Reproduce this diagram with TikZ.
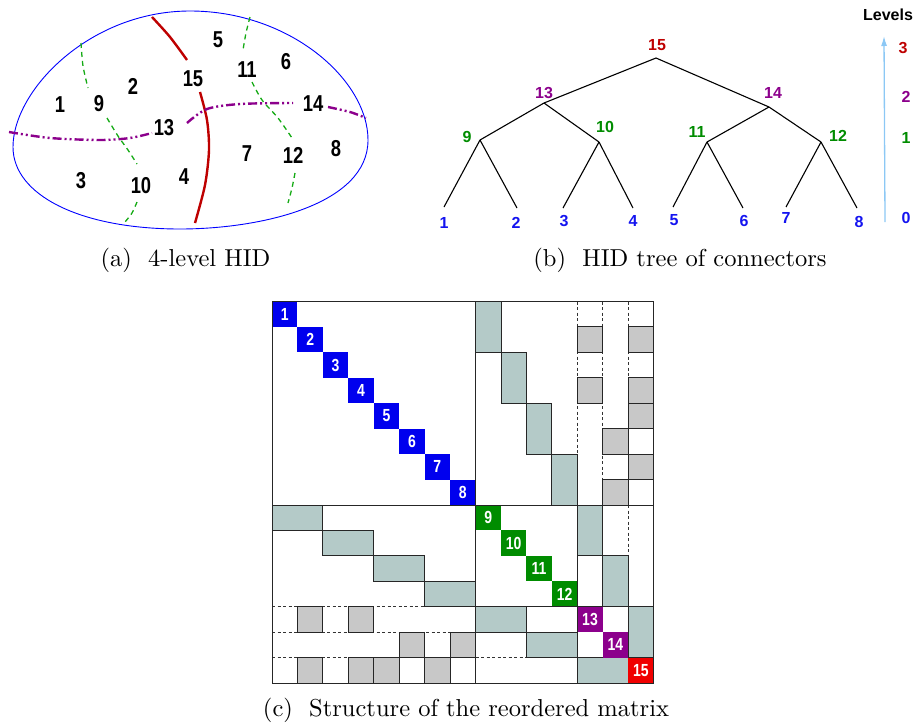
\documentclass[tikz,border=0pt]{standalone}
\usepackage{fontspec}
\usetikzlibrary{arrows.meta}
\newfontfamily\narrowbf{Liberation Sans Bold}[FakeStretch=0.8]
\newfontfamily\treebf{Liberation Sans Bold}
\newfontfamily\capfont{lmroman10-regular}[Extension=.otf]
\definecolor{hidblue}{RGB}{0,0,238}
\definecolor{leafblue}{RGB}{20,20,240}
\definecolor{hidgreen}{RGB}{0,140,0}
\definecolor{sepgreen}{RGB}{20,170,20}
\definecolor{hidpurple}{RGB}{140,0,140}
\definecolor{hidred}{RGB}{240,0,0}
\definecolor{hiddarkred}{RGB}{190,0,0}
\definecolor{hidteal}{RGB}{180,202,200}
\definecolor{hidgray}{RGB}{200,200,200}
\definecolor{levelblue}{RGB}{140,200,245}
\begin{document}
\begin{tikzpicture}[x=1pt, y=-1pt,
    dom/.style={blue, line width=0.9pt},
    cut15/.style={hiddarkred, line width=2.4pt},
    cut13/.style={hidpurple, line width=2.4pt, dash pattern=on 9pt off 3pt on 2pt off 3pt on 2pt off 3pt},
    cut9/.style={sepgreen, line width=1.3pt, dash pattern=on 5pt off 4pt},
    dnum/.style={font=\narrowbf\fontsize{23}{23}\selectfont, inner sep=0pt},
    tnum/.style={font=\treebf\fontsize{16}{16}\selectfont, inner sep=0pt},
    tedge/.style={black, line width=1.1pt},
    subcap/.style={font=\capfont\fontsize{24.5}{24.5}\selectfont, inner sep=0pt, anchor=base},
    mline/.style={black!85, line width=0.9pt},
    mdash/.style={black!80, line width=0.8pt, dash pattern=on 3pt off 2.5pt},
    tcell/.style={mline, fill=hidteal},
    gcell/.style={mline, fill=hidgray},
    dcell/.style={minimum size=25.4pt, inner sep=0pt, text=white, font=\narrowbf\fontsize{17.5}{17.5}\selectfont}
  ]
  \useasboundingbox (0,0) rectangle (915,726);

  % (a) domain
  \draw[dom] (13,147) .. controls (13,90) and (90,11) .. (190,11)
    .. controls (290,11) and (368,80) .. (368,140)
    .. controls (368,205) and (260,229) .. (180,229)
    .. controls (80,229) and (13,195) .. cycle;
  \draw[cut15] plot[smooth] coordinates {(152,17) (170,37) (187,60)};
  \draw[cut15] plot[smooth] coordinates {(200,92) (207,120) (209,150) (205,185) (195,223)};
  \draw[cut13] plot[smooth] coordinates {(9,132) (50,138) (100,140) (130,138) (152,133)};
  \draw[cut13] plot[smooth] coordinates {(187,123) (207,109) (240,104) (293,103)};
  \draw[cut13] plot[smooth] coordinates {(328,107) (350,112) (366,118)};
  \draw[cut9] plot[smooth] coordinates {(81,43) (83,66) (88,88)};
  \draw[cut9] plot[smooth] coordinates {(107,118) (118,136) (128,150) (137,164)};
  \draw[cut9] plot[smooth] coordinates {(137,202) (132,213) (125,222)};
  \draw[cut9] plot[smooth] coordinates {(250,17) (246,33) (243,50)};
  \draw[cut9] plot[smooth] coordinates {(252,82) (262,100) (278,118) (292,138)};
  \draw[cut9] plot[smooth] coordinates {(295,173) (292,188) (288,203)};
  \foreach \n/\p in {1/{(60,105)}, 2/{(133,86)}, 3/{(81,181)}, 4/{(184,177)}, 5/{(218,40)},
      6/{(286,62)}, 7/{(247,154)}, 8/{(336,149)}, 9/{(99,104)}, 10/{(141,186)}, 11/{(247,70)},
      12/{(293,155)}, 13/{(164,128)}, 14/{(313,104)}, 15/{(193,79)}}
    \node[dnum] (a\n) at \p {\n};
  \node[subcap] (capa) at (185.5,266.5) {(a)\ \ 4-level HID};

  % (b) tree
  \coordinate (t15) at (656,58);
  \coordinate (t13) at (544,103);
  \coordinate (t14) at (769,107);
  \coordinate (t9) at (480,140);
  \coordinate (t10) at (599,142);
  \coordinate (t11) at (707,142);
  \coordinate (t12) at (821,142);
  \foreach \n/\x/\y in {1/444/207, 2/517/208, 3/563/208, 4/633/208, 5/673/207, 6/743/208, 7/786/207, 8/857/208}
    \coordinate (l\n) at (\x,\y);
  \foreach \p/\c in {t15/t13, t15/t14, t13/t9, t13/t10, t14/t11, t14/t12, t9/l1, t9/l2,
      t10/l3, t10/l4, t11/l5, t11/l6, t12/l7, t12/l8}
    \draw[tedge] (\p) -- (\c);
  \node[tnum, hiddarkred] (b15) at (657,45) {15};
  \node[tnum, hidpurple] (b13) at (544,93) {13};
  \node[tnum, hidpurple] (b14) at (773,93) {14};
  \node[tnum, hidgreen] (b9) at (467,137) {9};
  \node[tnum, hidgreen] (b10) at (605,127) {10};
  \node[tnum, hidgreen] (b11) at (697,132) {11};
  \node[tnum, hidgreen] (b12) at (838,136) {12};
  \foreach \n/\x/\y in {1/444/223, 2/516/223, 3/564/221, 4/633/221, 5/674/220, 6/744/221, 7/786/218, 8/859/222}
    \node[tnum, leafblue] (b\n) at (\x,\y) {\n};
  \coordinate (lv0) at (885,222);
  \coordinate (lv3) at (884,36);
  \draw[levelblue, line width=1.3pt, -{Latex[length=10pt, width=6pt]}] (lv0) -- (lv3);
  \node[tnum] (lvl) at (888,15) {Levels};
  \node[tnum, hiddarkred] (lvl3) at (903,48) {3};
  \node[tnum, hidpurple] (lvl2) at (906,97) {2};
  \node[tnum, hidgreen] (lvl1) at (906,138) {1};
  \node[tnum, leafblue] (lvl0) at (906,218) {0};
  \node[subcap] (capb) at (680,266.5) {(b)\ \ HID tree of connectors};

  % (c) matrix
  \begin{scope}[shift={(272,301.5)}, x=25.44pt, y=-25.44pt]
    \foreach \k in {12,13,14} {
      \draw[mdash] (\k,0) -- (\k,8);
      \draw[mdash] (0,\k) -- (8,\k);
    }
    \draw[mdash] (14,8) -- (14,10);
    \draw[mdash] (8,14) -- (10,14);
    \foreach \x/\y in {8/0, 9/2, 10/4, 11/6, 12/8, 13/10, 14/12} {
      \draw[tcell] (\x,\y) rectangle ++(1,2);
      \draw[tcell] (\y,\x) rectangle ++(2,1);
    }
    \foreach \x/\y in {12/1, 12/3, 13/5, 13/7, 14/1, 14/3, 14/4, 14/6} {
      \draw[gcell] (\x,\y) rectangle ++(1,1);
      \draw[gcell] (\y,\x) rectangle ++(1,1);
    }
    \foreach \i/\c in {1/hidblue, 2/hidblue, 3/hidblue, 4/hidblue, 5/hidblue, 6/hidblue, 7/hidblue,
        8/hidblue, 9/hidgreen, 10/hidgreen, 11/hidgreen, 12/hidgreen, 13/hidpurple, 14/hidpurple, 15/hidred}
      \node[dcell, fill=\c] (d\i) at (\i-0.5,\i-0.5) {\i};
    \draw[mline] (0,0) rectangle (15,15);
    \draw[mline] (8,0) -- (8,15) (0,8) -- (15,8);
    \draw[mline] (12,8) -- (12,15) (8,12) -- (15,12);
  \end{scope}
  \node[subcap] (capc) at (466,716) {(c)\ \ Structure of the reordered matrix};
\end{tikzpicture}
\end{document}
